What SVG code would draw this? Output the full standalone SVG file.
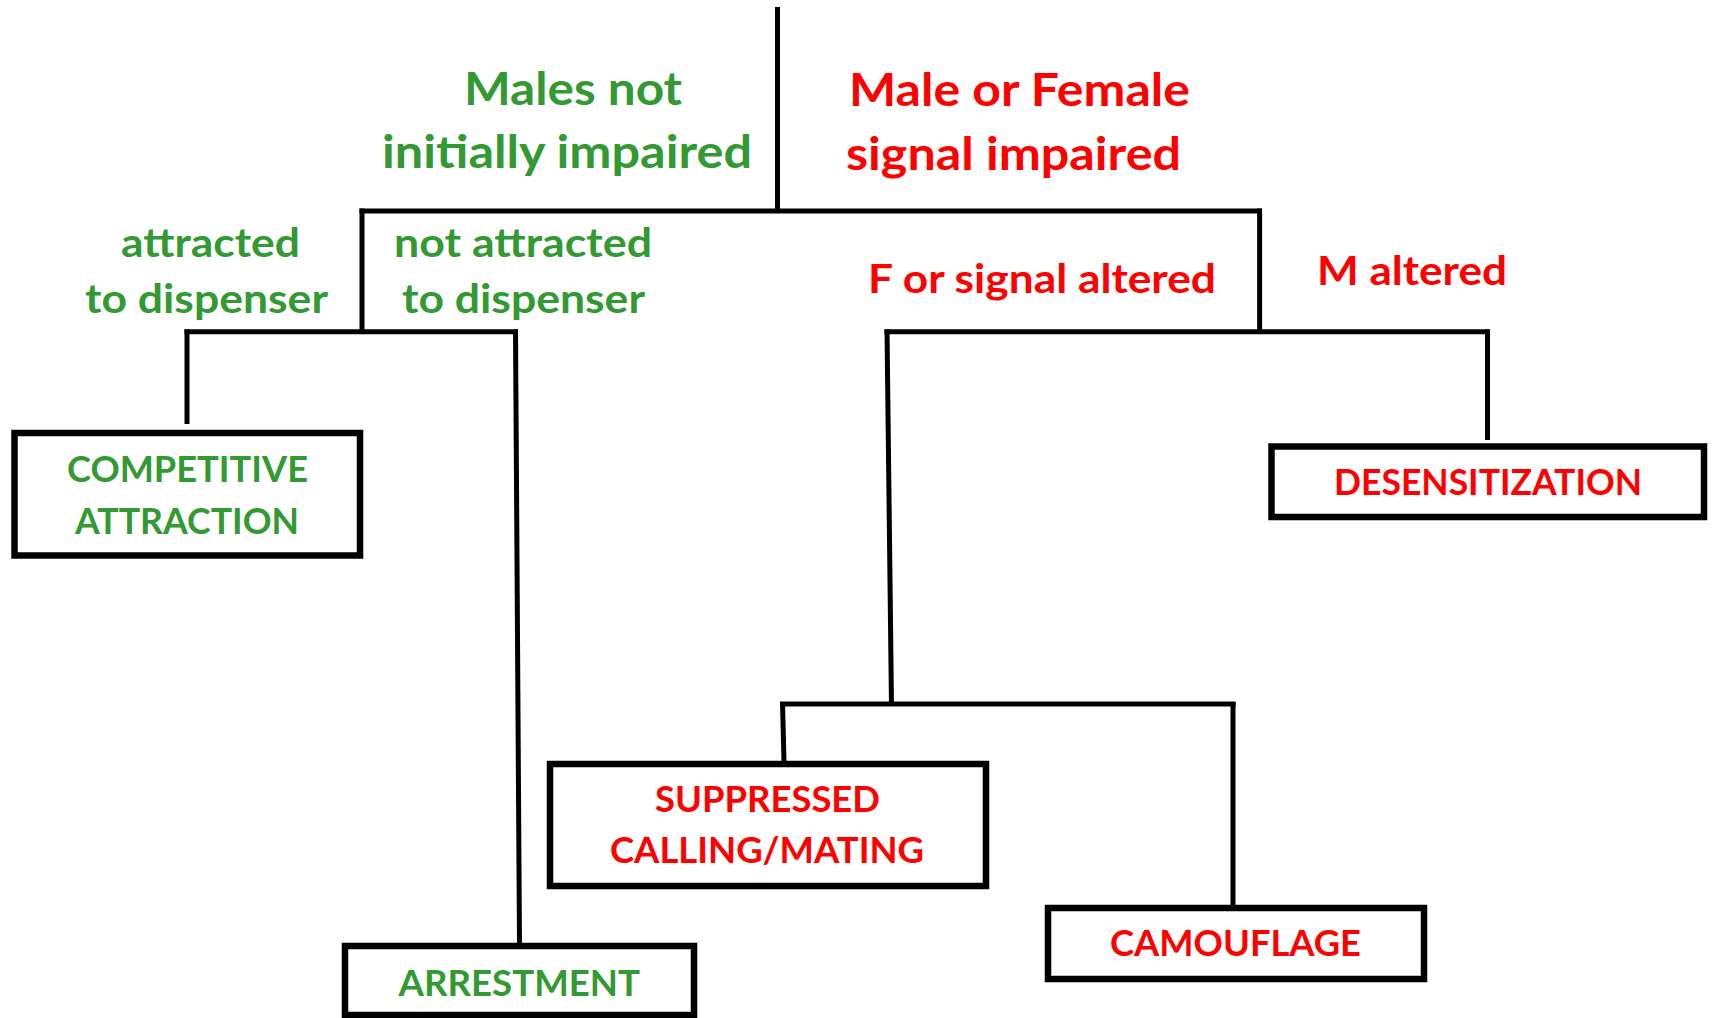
<svg xmlns="http://www.w3.org/2000/svg" width="1712" height="1018" viewBox="0 0 1712 1018">
<style>
.bg{fill:#ffffff}
.ln{stroke:#000;stroke-width:5;fill:none;stroke-linecap:butt}
.box{fill:#fff;stroke:#000;stroke-width:6.5}
text{font-family:Lato,"Open Sans","Liberation Sans",sans-serif;font-weight:700}
.g{fill:#339933}
.r{fill:#ff0000}
.big{font-size:45px}
.mid{font-size:40px}
.bx{font-size:36px}
</style>
<rect class="bg" x="0" y="0" width="1712" height="1018"/>
<g id="connectors">
<line class="ln" x1="777.5" y1="7" x2="777.5" y2="213"/>
<line class="ln" x1="359.5" y1="211" x2="1262" y2="211"/>
<line class="ln" x1="362" y1="208.5" x2="362" y2="334"/>
<line class="ln" x1="184.5" y1="331.7" x2="518" y2="331.7"/>
<line class="ln" x1="187" y1="329.5" x2="187" y2="424"/>
<line class="ln" x1="515.5" y1="329.5" x2="519.5" y2="944"/>
<line class="ln" x1="1259.6" y1="208.5" x2="1259.6" y2="334"/>
<line class="ln" x1="884.5" y1="331.7" x2="1490" y2="331.7"/>
<line class="ln" x1="887" y1="329.5" x2="891.5" y2="706"/>
<line class="ln" x1="1487.5" y1="329.5" x2="1487.5" y2="440"/>
<line class="ln" x1="780" y1="704" x2="1235.5" y2="704"/>
<line class="ln" x1="782.5" y1="702" x2="784" y2="762"/>
<line class="ln" x1="1233" y1="702" x2="1233" y2="906"/>
</g>
<g id="label-males-not-impaired">
<text class="g big" x="464" y="105" textLength="218" lengthAdjust="spacingAndGlyphs">Males not</text>
<text class="g big" x="382" y="168" textLength="370" lengthAdjust="spacingAndGlyphs">initially impaired</text>
</g>
<g id="label-signal-impaired">
<text class="r big" x="849" y="106" textLength="341" lengthAdjust="spacingAndGlyphs">Male or Female</text>
<text class="r big" x="846" y="170" textLength="335" lengthAdjust="spacingAndGlyphs">signal impaired</text>
</g>
<g id="label-attracted">
<text class="g mid" x="121" y="257" textLength="179" lengthAdjust="spacingAndGlyphs">attracted</text>
<text class="g mid" x="85" y="313" textLength="243" lengthAdjust="spacingAndGlyphs">to dispenser</text>
</g>
<g id="label-not-attracted">
<text class="g mid" x="394" y="257" textLength="258" lengthAdjust="spacingAndGlyphs">not attracted</text>
<text class="g mid" x="402" y="313" textLength="243" lengthAdjust="spacingAndGlyphs">to dispenser</text>
</g>
<g id="label-f-altered">
<text class="r mid" x="868" y="293" textLength="348" lengthAdjust="spacingAndGlyphs">F or signal altered</text>
</g>
<g id="label-m-altered">
<text class="r mid" x="1317" y="285" textLength="190" lengthAdjust="spacingAndGlyphs">M altered</text>
</g>
<g id="node-competitive-attraction">
<rect class="box" x="14.5" y="433" width="345.5" height="122.5"/>
<text class="g bx" x="67" y="482" textLength="241" lengthAdjust="spacingAndGlyphs">COMPETITIVE</text>
<text class="g bx" x="75" y="534" textLength="224" lengthAdjust="spacingAndGlyphs">ATTRACTION</text>
</g>
<g id="node-arrestment">
<rect class="box" x="345" y="946" width="349" height="69"/>
<text class="g bx" x="398.5" y="996" textLength="241.5" lengthAdjust="spacingAndGlyphs">ARRESTMENT</text>
</g>
<g id="node-suppressed">
<rect class="box" x="550" y="764" width="436" height="122"/>
<text class="r bx" x="655" y="812" textLength="225" lengthAdjust="spacingAndGlyphs">SUPPRESSED</text>
<text class="r bx" x="610" y="863" textLength="314" lengthAdjust="spacingAndGlyphs">CALLING/MATING</text>
</g>
<g id="node-camouflage">
<rect class="box" x="1048" y="908" width="376" height="71"/>
<text class="r bx" x="1110" y="956" textLength="251" lengthAdjust="spacingAndGlyphs">CAMOUFLAGE</text>
</g>
<g id="node-desensitization">
<rect class="box" x="1271.5" y="446.5" width="432.5" height="70.5"/>
<text class="r bx" x="1334" y="495" textLength="308" lengthAdjust="spacingAndGlyphs">DESENSITIZATION</text>
</g>
</svg>
